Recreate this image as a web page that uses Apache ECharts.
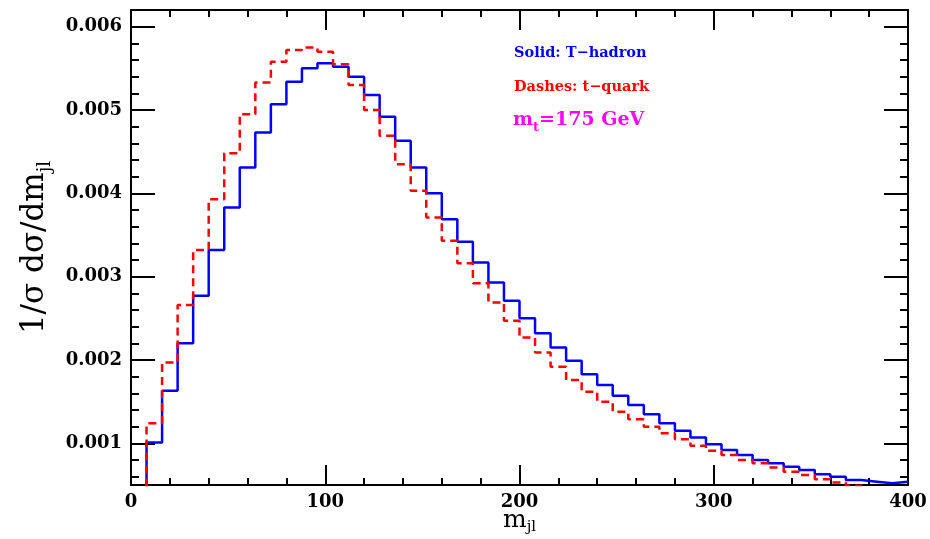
<!DOCTYPE html>
<html>
<head>
<meta charset="utf-8">
<script src="https://cdn.jsdelivr.net/npm/echarts@6/dist/echarts.min.js"></script>
<style>
  html, body { margin: 0; padding: 0; background: #fff; }
  #chart { width: 930px; height: 539px; }
</style>
</head>
<body>
<div id="chart"></div>
<script>
  // bin edges of m_jl (GeV), 8 GeV wide
  const binEdges = [0, 8, 16, 24, 32, 40, 48, 56, 64, 72, 80, 88, 96, 104, 112, 120, 128, 136, 144, 152,
    160, 168, 176, 184, 192, 200, 208, 216, 224, 232, 240, 248, 256, 264, 272, 280, 288, 296, 304, 312,
    320, 328, 336, 344, 352, 360, 368, 376, 384, 392, 400]

  // solid: T-hadron
  const hadronValues = [0.0002, 0.00101, 0.00163, 0.00220, 0.00277, 0.00332, 0.00383, 0.00431, 0.00473, 0.00507,
    0.00534, 0.00550, 0.00556, 0.00552, 0.00540, 0.00518, 0.00492, 0.00463, 0.00431, 0.00400,
    0.00369, 0.00342, 0.00317, 0.00293, 0.00271, 0.00250, 0.00232, 0.00215, 0.00199, 0.00183,
    0.00170, 0.00157, 0.00146, 0.00135, 0.00124, 0.00115, 0.00107, 0.00099, 0.00092, 0.00086,
    0.00080, 0.00076, 0.00072, 0.00068, 0.00063, 0.00060, 0.00056, 0.00054, 0.00052, 0.00054]

  // dashes: t-quark
  const quarkValues = [0.0002, 0.00124, 0.00197, 0.00266, 0.00332, 0.00393, 0.00448, 0.00495, 0.00533, 0.00558,
    0.00572, 0.00575, 0.00570, 0.00555, 0.00530, 0.00500, 0.00469, 0.00435, 0.00403, 0.00371,
    0.00343, 0.00316, 0.00292, 0.00269, 0.00247, 0.00227, 0.00209, 0.00192, 0.00176, 0.00162,
    0.00150, 0.00138, 0.00129, 0.00120, 0.00112, 0.00105, 0.00097, 0.00091, 0.00086, 0.00080,
    0.00076, 0.00071, 0.00066, 0.00062, 0.00057, 0.00053, 0.00049, 0.00046, 0.00043, 0.00040]

  const xTickLabels = ['0', '100', '200', '300', '400']
  const yTickLabels = ['0.001', '0.002', '0.003', '0.004', '0.005', '0.006']

  const labelFont = 'DejaVu Serif'

  function toSteps(values) {
    let pts = values.map((v, i) => [binEdges[i], v])
    pts.push([binEdges[binEdges.length - 1], values[values.length - 1]])
    return pts
  }

  function frameAxis(extra) {
    return Object.assign({
      type: 'value',
      splitLine: { show: false },
      axisLine: { show: true, onZero: false, lineStyle: { color: '#000', width: 2 } },
      axisTick: { show: true, inside: true, lineStyle: { color: '#000', width: 2 } },
      minorTick: { show: true, splitNumber: 5, lineStyle: { color: '#000', width: 2 } }
    }, extra)
  }

  let myChart = echarts.init(document.getElementById('chart'))

  let option = {
    animation: false,
    grid: { left: 131, right: 22, top: 10, bottom: 54, containLabel: false, outerBoundsMode: 'none' },
    xAxis: [
      frameAxis({
        position: 'bottom', min: 0, max: 400, interval: 100,
        axisTick: { show: true, inside: true, length: 20, lineStyle: { color: '#000', width: 2 } },
        minorTick: { show: true, splitNumber: 5, length: 7, lineStyle: { color: '#000', width: 2 } },
        axisLabel: {
          margin: 8, color: '#000', fontFamily: labelFont, fontWeight: 'bold', fontSize: 18,
          formatter: (v) => xTickLabels.indexOf(String(v)) >= 0 ? String(v) : ''
        },
        name: '{a|m}{s|jl}',
        nameLocation: 'middle',
        nameGap: 23,
        nameMoveOverlap: false,
        nameTextStyle: {
          rich: {
            a: { fontFamily: labelFont, fontSize: 25, color: '#000', verticalAlign: 'top', lineHeight: 25 },
            s: { fontFamily: labelFont, fontSize: 15, color: '#000', verticalAlign: 'top', lineHeight: 15, padding: [12, 0, 0, 0] }
          }
        }
      }),
      frameAxis({
        position: 'top', min: 0, max: 400, interval: 100,
        axisTick: { show: true, inside: true, length: 20, lineStyle: { color: '#000', width: 2 } },
        minorTick: { show: true, splitNumber: 5, length: 7, lineStyle: { color: '#000', width: 2 } },
        axisLabel: { show: false }
      })
    ],
    yAxis: [
      frameAxis({
        position: 'left', min: 0.0005, max: 0.0062,
        axisTick: { show: true, inside: true, length: 24, lineStyle: { color: '#000', width: 2 } },
        minorTick: { show: true, splitNumber: 5, length: 8, lineStyle: { color: '#000', width: 2 } },
        axisLabel: {
          margin: 9, color: '#000', fontFamily: labelFont, fontWeight: 'bold', fontSize: 18,
          formatter: (v) => {
            let s = v.toFixed(3)
            return (yTickLabels.indexOf(s) >= 0 && Math.abs(v - Number(s)) < 1e-7) ? s : ''
          }
        },
        name: '{a|1/σ dσ/dm}{s|jl}',
        nameLocation: 'middle',
        nameRotate: 90,
        nameGap: 72,
        nameTextStyle: {
          rich: {
            a: { fontFamily: labelFont, fontSize: 31, color: '#000', verticalAlign: 'top', lineHeight: 31 },
            s: { fontFamily: labelFont, fontSize: 18, color: '#000', verticalAlign: 'top', lineHeight: 18, padding: [17, 0, 0, 0] }
          }
        }
      }),
      frameAxis({
        position: 'right', min: 0.0005, max: 0.0062,
        axisTick: { show: true, inside: true, length: 24, lineStyle: { color: '#000', width: 2 } },
        minorTick: { show: true, splitNumber: 5, length: 8, lineStyle: { color: '#000', width: 2 } },
        axisLabel: { show: false }
      })
    ],
    graphic: [
      {
        type: 'text', left: 514, top: 46,
        style: { text: 'Solid: T−hadron', fill: '#0000ff', font: 'bold 14.5px "DejaVu Serif"' }
      },
      {
        type: 'text', left: 514, top: 80,
        style: { text: 'Dashes: t−quark', fill: '#ff0000', font: 'bold 14.5px "DejaVu Serif"' }
      },
      {
        type: 'text', left: 513, top: 111,
        style: {
          text: '{a|m}{s|t}{a|=175 GeV}',
          rich: {
            a: { fontFamily: labelFont, fontWeight: 'bold', fontSize: 19, fill: '#ff00ff', verticalAlign: 'top', lineHeight: 20 },
            s: { fontFamily: labelFont, fontWeight: 'bold', fontSize: 13, fill: '#ff00ff', verticalAlign: 'top', lineHeight: 13, padding: [10, 0, 0, 0] }
          }
        }
      }
    ],
    series: [
      {
        name: 'T-hadron',
        type: 'line',
        step: 'end',
        symbol: 'none',
        clip: true,
        data: toSteps(hadronValues),
        lineStyle: { color: '#0000ff', width: 2.5 }
      },
      {
        name: 't-quark',
        type: 'line',
        step: 'end',
        symbol: 'none',
        clip: true,
        data: toSteps(quarkValues),
        lineStyle: { color: '#ff0000', width: 2.5, type: [8, 5] }
      }
    ]
  }

  myChart.setOption(option)
</script>
</body>
</html>
